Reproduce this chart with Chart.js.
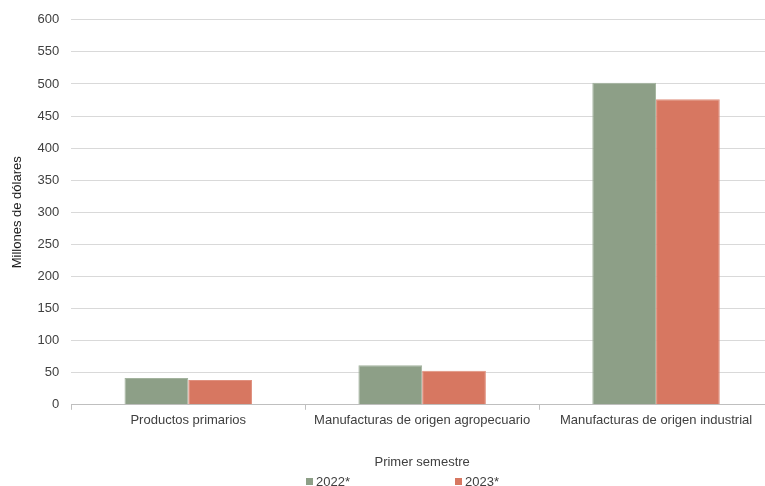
<!DOCTYPE html>
<html>
<head>
<meta charset="utf-8">
<script src="https://cdn.jsdelivr.net/npm/chart.js@4/dist/chart.umd.min.js"></script>
<style>
  html, body { margin: 0; padding: 0; background: #fff; overflow: hidden; }
  #wrap { width: 765px; height: 486px; overflow: hidden; }
</style>
</head>
<body>
<div id="wrap"><canvas id="grafica" width="775" height="486"></canvas></div>
<script>
// datos (millones de dolares, primer semestre)
const categorias = ['Productos primarios', 'Manufacturas de origen agropecuario', 'Manufacturas de origen industrial'];
const series = ['2022*', '2023*'];
const valores2022 = [41.7, 61.5, 502];
const valores2023 = [38.6, 53, 476];
const colores = ['#8d9f87', '#d77761'];

// leyenda dibujada a mano para respetar la separacion ancha entre items
const leyendaAbajo = {
    id: 'leyendaAbajo',
    afterDraw(chart) {
        const ctx = chart.ctx;
        const xs = [306, 455];
        ctx.save();
        ctx.font = '13px "Liberation Sans", Arial, sans-serif';
        ctx.textBaseline = 'middle';
        chart.data.datasets.forEach((ds, i) => {
            ctx.fillStyle = ds.backgroundColor;
            ctx.fillRect(xs[i], 478, 7, 7);
            ctx.fillStyle = '#404040';
            ctx.fillText(ds.label, xs[i] + 10, 482);
        });
        ctx.restore();
    }
};

const $grafica = document.querySelector('#grafica');
new Chart($grafica, {
    type: 'bar',
    data: {
        labels: categorias,
        datasets: [
            { label: series[0], data: valores2022, backgroundColor: colores[0], borderColor: '#a3b39e', borderWidth: 1 },
            { label: series[1], data: valores2023, backgroundColor: colores[1], borderColor: '#e0907e', borderWidth: 1 }
        ]
    },
    options: {
        responsive: false,
        animation: false,
        layout: { padding: { top: 17, left: 5, right: 2, bottom: 14 } },
        datasets: { bar: { categoryPercentage: 0.545, barPercentage: 1.0 } },
        plugins: {
            legend: { display: false },
            tooltip: { enabled: false }
        },
        scales: {
            x: {
                grid: { drawOnChartArea: false, drawTicks: true, tickLength: 5, color: '#bfbfbf' },
                border: { display: true, color: '#bfbfbf' },
                ticks: { color: '#404040', padding: 3, maxRotation: 0, font: { family: '"Liberation Sans", Arial, sans-serif', size: 13 } },
                title: {
                    display: true,
                    text: 'Primer semestre',
                    color: '#404040',
                    padding: { top: 23, bottom: 2 },
                    font: { family: '"Liberation Sans", Arial, sans-serif', size: 13 }
                }
            },
            y: {
                min: 0,
                max: 600,
                ticks: { stepSize: 50, color: '#404040', padding: 12, font: { family: '"Liberation Sans", Arial, sans-serif', size: 13 } },
                grid: { color: '#d9d9d9', drawTicks: false },
                border: { display: false },
                title: {
                    display: true,
                    text: 'Millones de dólares',
                    color: '#1a1a1a',
                    padding: { top: 5, bottom: 0 },
                    font: { family: '"Liberation Sans", Arial, sans-serif', size: 13 }
                }
            }
        }
    },
    plugins: [leyendaAbajo]
});
</script>
</body>
</html>
